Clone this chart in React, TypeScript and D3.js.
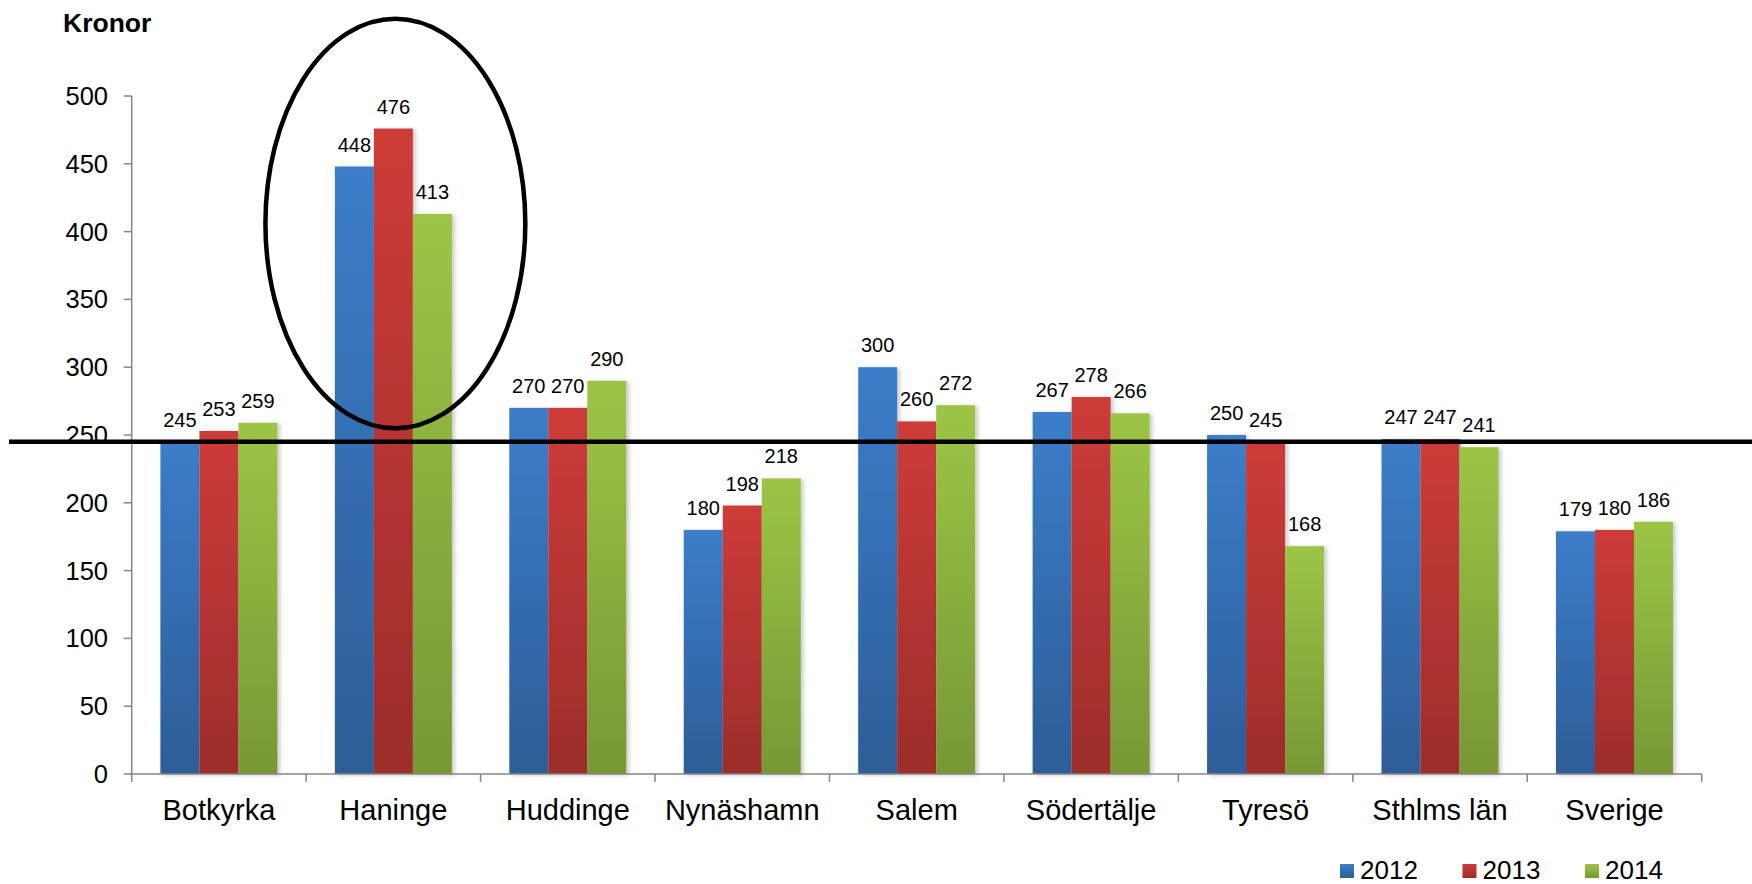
import React from "react";
import * as d3 from "d3";

const categories = ["Botkyrka", "Haninge", "Huddinge", "Nynäshamn", "Salem", "Södertälje", "Tyresö", "Sthlms län", "Sverige"];
const series = ["2012", "2013", "2014"];
const values2012 = [245, 448, 270, 180, 300, 267, 250, 247, 179];
const values2013 = [253, 476, 270, 198, 260, 278, 245, 247, 180];
const values2014 = [259, 413, 290, 218, 272, 266, 168, 241, 186];
const yTicks = [0, 50, 100, 150, 200, 250, 300, 350, 400, 450, 500];
const referenceValue = 245;
const highlighted = "Haninge";
const ellipseRange = [255, 557];

const seriesValues = [values2012, values2013, values2014];
const colorsTop = ["#3c7dca", "#cd3c39", "#9cc546"];
const colorsBottom = ["#2d5d97", "#9c2d2b", "#779835"];

const W = 1752;
const H = 884;
const left = 131.7;
const right = 1701.7;
const top = 96;
const bottom = 774;
const font = "'Liberation Sans', Arial, sans-serif";

export default function App() {
  const x = d3.scaleBand<string>().domain(categories).range([left, right]).paddingInner(0).paddingOuter(0);
  const inner = d3.scaleBand<string>().domain(series).range([0, x.step()]).paddingInner(0).paddingOuter(0.736);
  const y = d3.scaleLinear().domain([0, 500]).range([bottom, top]);

  const cx = (x(highlighted) as number) + x.step() / 2 + 2;
  const cyTop = y(ellipseRange[1]);
  const cyBot = y(ellipseRange[0]);

  return (
    <svg width={W} height={H} style={{ position: "fixed", left: 0, top: 0, background: "#fff" }} fontFamily={font}>
      <defs>
        {series.map((s, i) => (
          <linearGradient key={s} id={`g${i}`} x1="0" y1="0" x2="0" y2="1">
            <stop offset="0%" stopColor={colorsTop[i]} />
            <stop offset="100%" stopColor={colorsBottom[i]} />
          </linearGradient>
        ))}
        <filter id="shadow" x="-20%" y="-5%" width="140%" height="110%">
          <feDropShadow dx="2.5" dy="1" stdDeviation="2" floodColor="#000" floodOpacity="0.22" />
        </filter>
      </defs>
      <rect x={0} y={0} width={W} height={H} fill="#fff" />

      <text x={63} y={32} fontSize={26.5} fontWeight="bold" fill="#000">Kronor</text>

      {/* y axis */}
      <line x1={left} x2={left} y1={top} y2={bottom} stroke="#868686" strokeWidth={1.5} />
      {yTicks.map((t) => (
        <g key={t}>
          <line x1={left - 8} x2={left} y1={y(t)} y2={y(t)} stroke="#868686" strokeWidth={1.5} />
          <text x={108} y={y(t)} dy="0.35em" textAnchor="end" fontSize={25.5} fill="#000">{t}</text>
        </g>
      ))}

      {/* bars */}
      {categories.map((c, ci) => (
        <g key={c}>
          {series.map((s, si) => {
            const v = seriesValues[si][ci];
            const bx = (x(c) as number) + (inner(s) as number);
            return (
              <rect key={s} x={bx} y={y(v)} width={inner.bandwidth()} height={y(0) - y(v)} fill={`url(#g${si})`} filter="url(#shadow)" />
            );
          })}
        </g>
      ))}
      {categories.map((c, ci) => (
        <g key={c + "l"}>
          {series.map((s, si) => {
            const v = seriesValues[si][ci];
            const bx = (x(c) as number) + (inner(s) as number) + inner.bandwidth() / 2;
            return (
              <text key={s} x={bx} y={y(v) - 15} textAnchor="middle" fontSize={20} fill="#000">{v}</text>
            );
          })}
        </g>
      ))}

      {/* x axis */}
      <line x1={left} x2={right} y1={bottom} y2={bottom} stroke="#868686" strokeWidth={1.5} />
      {[...categories.map((c) => x(c) as number), right].map((px, i) => (
        <line key={i} x1={px} x2={px} y1={bottom} y2={bottom + 8} stroke="#868686" strokeWidth={1.5} />
      ))}
      {categories.map((c) => (
        <text key={c} x={(x(c) as number) + x.step() / 2} y={820} textAnchor="middle" fontSize={29} fill="#000">{c}</text>
      ))}

      {/* annotations */}
      <line x1={9} x2={W} y1={y(referenceValue)} y2={y(referenceValue)} stroke="#000" strokeWidth={4.5} />
      <ellipse cx={cx} cy={(cyTop + cyBot) / 2} rx={x.step() * 0.745} ry={(cyBot - cyTop) / 2} fill="none" stroke="#000" strokeWidth={4.5} />

      {/* legend */}
      {series.map((s, i) => {
        const lx = 1340 + i * 122.5;
        return (
          <g key={s}>
            <rect x={lx} y={864} width={14} height={14} fill={`url(#g${i})`} />
            <text x={lx + 20} y={879} fontSize={26} fill="#000">{s}</text>
          </g>
        );
      })}
    </svg>
  );
}
